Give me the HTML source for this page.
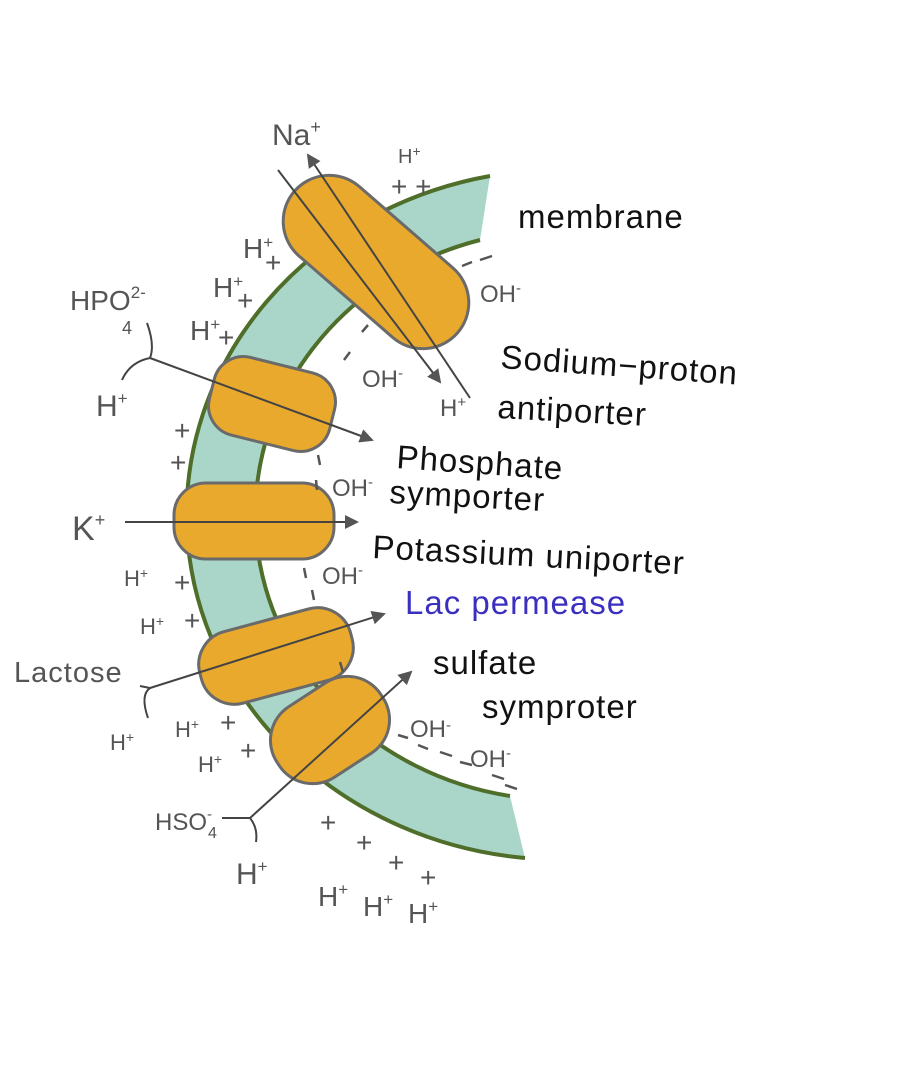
<!DOCTYPE html>
<html><head><meta charset="utf-8"><style>
html,body{margin:0;padding:0;background:#fff;width:920px;height:1068px;overflow:hidden}
svg{display:block}
.h{font-family:"Liberation Sans",sans-serif;fill:#555;font-size:28px}
.lab{font-family:"Liberation Sans",sans-serif;fill:#111;font-size:33px;letter-spacing:1px}
</style></head><body>
<svg width="920" height="1068" viewBox="0 0 920 1068" xmlns="http://www.w3.org/2000/svg">
<defs>
<marker id="ah" markerWidth="14" markerHeight="14" refX="12" refY="7" orient="auto" markerUnits="userSpaceOnUse" viewBox="0 0 14 14">
<path d="M0,0 L14,7 L0,14 z" fill="#555"/></marker>
</defs>
<!-- membrane band -->
<path d="M490,176 A375,345 0 0 0 525,858 L510,796 A305,285 0 0 1 480,240 Z" fill="#a9d6c9"/>
<path d="M490,176 A375,345 0 0 0 525,858" fill="none" stroke="#4f6e2a" stroke-width="4"/>
<path d="M510,796 A305,285 0 0 1 480,240" fill="none" stroke="#4f6e2a" stroke-width="4"/>

<!-- proteins -->
<g fill="#e9a92c" stroke="#6a6a6a" stroke-width="3">
<rect x="-108" y="-46" width="216" height="92" rx="46" transform="translate(376,262) rotate(41)"/>
<rect x="-62" y="-40" width="124" height="80" rx="30" transform="translate(272,404) rotate(14)"/>
<rect x="-80" y="-38" width="160" height="76" rx="32" transform="translate(254,521)"/>
<rect x="-78" y="-37" width="156" height="74" rx="34" transform="translate(276,656) rotate(-15)"/>
<rect x="-62" y="-42" width="124" height="84" rx="40" transform="translate(330,730) rotate(-33)"/>
</g>

<!-- arrows -->
<g stroke="#444" stroke-width="2" fill="none">
<line x1="278" y1="170" x2="440" y2="382" marker-end="url(#ah)"/>
<line x1="470" y1="398" x2="308" y2="155" marker-end="url(#ah)"/>
<line x1="150" y1="358" x2="372" y2="440" marker-end="url(#ah)"/>
<path d="M147,323 Q155,345 150,358 Q130,362 122,380"/>
<line x1="125" y1="522" x2="357" y2="522" marker-end="url(#ah)"/>
<line x1="150" y1="688" x2="384" y2="614" marker-end="url(#ah)"/>
<path d="M140,686 L150,688 Q140,695 148,718"/>
<line x1="250" y1="818" x2="411" y2="672" marker-end="url(#ah)"/>
<path d="M222,818 L250,818 Q258,828 256,842"/>
</g>

<!-- dashes -->
<g stroke="#555" stroke-width="2.5">
<line x1="462" y1="266" x2="472" y2="262"/><line x1="480" y1="260" x2="492" y2="256"/>
<line x1="362" y1="332" x2="368" y2="325"/><line x1="344" y1="360" x2="350" y2="352"/>
<line x1="318" y1="455" x2="320" y2="465"/><line x1="316" y1="480" x2="317" y2="490"/>
<line x1="304" y1="568" x2="306" y2="578"/><line x1="312" y1="590" x2="314" y2="600"/>
<line x1="340" y1="662" x2="343" y2="672"/>
<line x1="398" y1="735" x2="408" y2="738"/><line x1="418" y1="745" x2="428" y2="749"/><line x1="440" y1="752" x2="452" y2="756"/><line x1="460" y1="762" x2="472" y2="765"/>
<line x1="492" y1="775" x2="504" y2="779"/><line x1="505" y1="785" x2="517" y2="789"/>
</g>

<!-- handwritten labels -->
<g class="h">
<text x="272" y="145" font-size="30">Na<tspan font-size="18" dy="-12">+</tspan></text>
<text x="398" y="163" font-size="20">H<tspan font-size="14" dy="-7">+</tspan></text>
<text x="391" y="196">+ +</text>
<text x="243" y="258">H<tspan font-size="17" dy="-10">+</tspan></text>
<text x="265" y="272">+</text>
<text x="213" y="297">H<tspan font-size="17" dy="-10">+</tspan></text>
<text x="237" y="310">+</text>
<text x="190" y="340">H<tspan font-size="17" dy="-10">+</tspan></text>
<text x="218" y="347">+</text>
<text x="70" y="310">HPO<tspan font-size="17" dy="-12">2-</tspan></text>
<text x="122" y="334" font-size="18">4</text>
<text x="96" y="416" font-size="30">H<tspan font-size="17" dy="-12">+</tspan></text>
<text x="174" y="440">+</text>
<text x="170" y="472">+</text>
<text x="480" y="302" font-size="24">OH<tspan font-size="15" dy="-9">-</tspan></text>
<text x="362" y="387" font-size="24">OH<tspan font-size="15" dy="-9">-</tspan></text>
<text x="440" y="416" font-size="24">H<tspan font-size="15" dy="-9">+</tspan></text>
<text x="332" y="496" font-size="24">OH<tspan font-size="15" dy="-9">-</tspan></text>
<text x="72" y="540" font-size="34">K<tspan font-size="18" dy="-14">+</tspan></text>
<text x="322" y="584" font-size="24">OH<tspan font-size="15" dy="-9">-</tspan></text>
<text x="124" y="586" font-size="22">H<tspan font-size="14" dy="-8">+</tspan></text>
<text x="174" y="592">+</text>
<text x="140" y="634" font-size="22">H<tspan font-size="14" dy="-8">+</tspan></text>
<text x="184" y="630">+</text>
<text x="14" y="682" font-size="29" letter-spacing="1">Lactose</text>
<text x="110" y="750" font-size="22">H<tspan font-size="14" dy="-8">+</tspan></text>
<text x="175" y="737" font-size="22">H<tspan font-size="14" dy="-8">+</tspan></text>
<text x="220" y="732">+</text>
<text x="198" y="772" font-size="22">H<tspan font-size="14" dy="-8">+</tspan></text>
<text x="240" y="760">+</text>
<text x="410" y="737" font-size="24">OH<tspan font-size="15" dy="-7">-</tspan></text>
<text x="470" y="767" font-size="24">OH<tspan font-size="15" dy="-9">-</tspan></text>
<text x="155" y="830" font-size="24">HSO<tspan font-size="15" dy="-11">-</tspan></text>
<text x="208" y="838" font-size="16">4</text>
<text x="236" y="884" font-size="30">H<tspan font-size="17" dy="-12">+</tspan></text>
<text x="320" y="832">+</text>
<text x="356" y="852">+</text>
<text x="388" y="872">+</text>
<text x="420" y="887">+</text>
<text x="318" y="906">H<tspan font-size="17" dy="-11">+</tspan></text>
<text x="363" y="916">H<tspan font-size="17" dy="-11">+</tspan></text>
<text x="408" y="923">H<tspan font-size="17" dy="-11">+</tspan></text>
</g>

<!-- main labels -->
<text class="lab" x="518" y="228">membrane</text>
<text class="lab" x="500" y="368" transform="rotate(4 500 368)">Sodium−proton</text>
<text class="lab" x="497" y="418" transform="rotate(3 497 418)">antiporter</text>
<text class="lab" x="396" y="468" transform="rotate(4 396 468)">Phosphate</text>
<text class="lab" x="389" y="503" transform="rotate(3 389 503)">symporter</text>
<text class="lab" x="372" y="558" transform="rotate(3 372 558)">Potassium uniporter</text>
<text class="lab" x="405" y="614" style="fill:#3b2fc0">Lac permease</text>
<text class="lab" x="433" y="674">sulfate</text>
<text class="lab" x="482" y="718">symproter</text>
</svg>
</body></html>
